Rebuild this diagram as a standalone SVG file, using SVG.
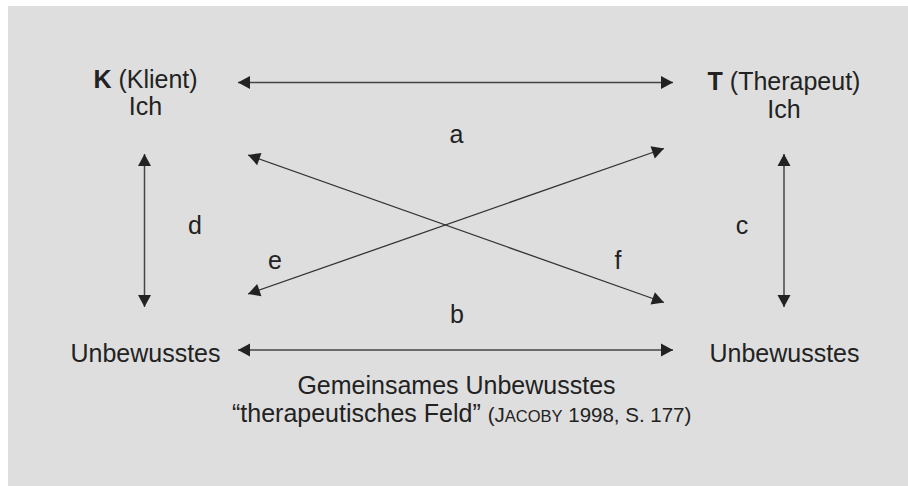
<svg xmlns="http://www.w3.org/2000/svg" width="908" height="486" viewBox="0 0 908 486">
  <style>
    text { font-family: "Liberation Sans", Arial, sans-serif; fill: #222; }
    .lbl { font-size: 25px; }
    .ctr { text-anchor: middle; }
    .conn { stroke: #444; stroke-width: 1.5; fill: none; marker-start: url(#ah); marker-end: url(#ah); }
    .diag { stroke: #333; stroke-width: 1.3; }
  </style>
  <defs>
    <marker id="ah" markerUnits="userSpaceOnUse" markerWidth="14" markerHeight="14" viewBox="0 0 14 14" refX="13" refY="7" orient="auto-start-reverse">
      <path d="M1,0.5 L13,7 L1,13.5 Z" fill="#222"/>
    </marker>
  </defs>
  <rect x="0" y="0" width="908" height="486" fill="#ffffff"/>
  <rect x="8" y="6" width="900" height="480" fill="#dedede"/>

  <g id="connectors">
    <line id="top" class="conn" x1="238" y1="82.5" x2="673" y2="82.5"/>
    <line id="bottom" class="conn" x1="238" y1="350" x2="673" y2="350"/>
    <line id="left" class="conn" x1="144.5" y1="154" x2="144.5" y2="307"/>
    <line id="right" class="conn" x1="784" y1="154" x2="784" y2="307"/>
    <line id="diag-f" class="conn diag" x1="248" y1="155" x2="664" y2="302.5"/>
    <line id="diag-e" class="conn diag" x1="248" y1="294" x2="664" y2="148.5"/>
  </g>

  <g id="node-K">
    <text class="lbl ctr" x="145.5" y="87.5"><tspan font-weight="bold">K</tspan> (Klient)</text>
    <text class="lbl ctr" x="145.5" y="115">Ich</text>
  </g>
  <g id="node-T">
    <text class="lbl ctr" x="784" y="90"><tspan font-weight="bold">T</tspan> (Therapeut)</text>
    <text class="lbl ctr" x="784" y="118">Ich</text>
  </g>
  <g id="node-UK">
    <text class="lbl ctr" x="145.5" y="361.5">Unbewusstes</text>
  </g>
  <g id="node-UT">
    <text class="lbl ctr" x="784.5" y="361.5">Unbewusstes</text>
  </g>

  <g id="labels">
    <text class="lbl ctr" x="456.5" y="142.5">a</text>
    <text class="lbl ctr" x="457" y="323">b</text>
    <text class="lbl ctr" x="742" y="234">c</text>
    <text class="lbl ctr" x="195" y="234">d</text>
    <text class="lbl ctr" x="275" y="269">e</text>
    <text class="lbl ctr" x="618" y="269">f</text>
  </g>

  <g id="caption">
    <text class="lbl ctr" x="456.5" y="393.5">Gemeinsames Unbewusstes</text>
    <text class="lbl" x="232" y="421.5">“therapeutisches Feld” <tspan font-size="20.5">(J<tspan font-size="16.5">ACOBY</tspan> 1998, S. 177)</tspan></text>
  </g>
</svg>
